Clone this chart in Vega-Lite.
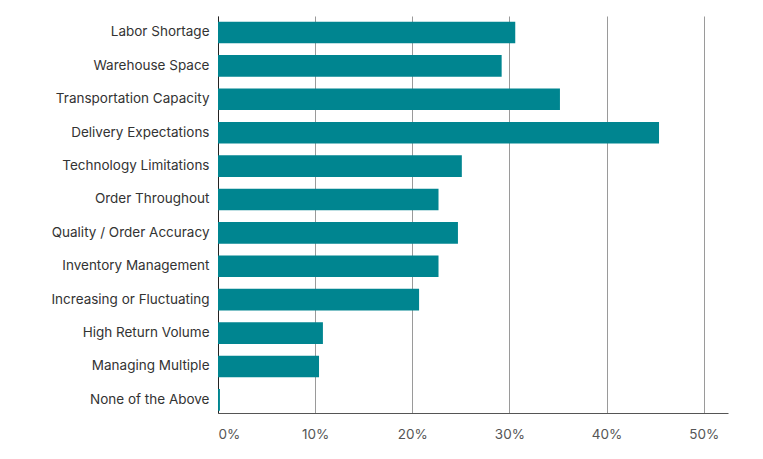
{
  "$schema": "https://vega.github.io/schema/vega-lite/v6.json",
  "autosize": "none",
  "padding": {"left": 218, "top": 16, "right": 35, "bottom": 46},
  "width": 510,
  "height": 397,
  "background": "white",
  "config": {
    "view": {"stroke": null},
    "font": "Inter",
    "axis": {"labelFont": "Inter", "titleFont": "Inter"}
  },
  "data": {
    "values": [
      {"category": "Labor Shortage", "value": 0.306},
      {"category": "Warehouse Space", "value": 0.292},
      {"category": "Transportation Capacity", "value": 0.352},
      {"category": "Delivery Expectations", "value": 0.454},
      {"category": "Technology Limitations", "value": 0.251},
      {"category": "Order Throughout", "value": 0.227},
      {"category": "Quality / Order Accuracy", "value": 0.247},
      {"category": "Inventory Management", "value": 0.227},
      {"category": "Increasing or Fluctuating", "value": 0.207},
      {"category": "High Return Volume", "value": 0.108},
      {"category": "Managing Multiple", "value": 0.104},
      {"category": "None of the Above", "value": 0.002}
    ]
  },
  "mark": {"type": "bar", "color": "#008590"},
  "encoding": {
    "y": {
      "field": "category",
      "type": "nominal",
      "sort": null,
      "title": null,
      "scale": {"paddingInner": 0.353, "paddingOuter": 0.12, "align": 0.71},
      "axis": {
        "ticks": false,
        "labelPadding": 9,
        "labelFontSize": 13.5,
        "labelColor": "#333333",
        "domainColor": "#222222",
        "domainWidth": 1,
        "labelLimit": 300
      }
    },
    "x": {
      "field": "value",
      "type": "quantitative",
      "title": null,
      "scale": {"domain": [0, 0.525], "nice": false},
      "axis": {
        "values": [0, 0.1, 0.2, 0.3, 0.4, 0.5],
        "format": ".0%",
        "ticks": false,
        "labelPadding": 14,
        "labelFontSize": 13.5,
        "labelColor": "#555555",
        "domainColor": "#555555",
        "grid": true,
        "gridColor": "#9a9a9a",
        "gridWidth": 1
      }
    }
  }
}
